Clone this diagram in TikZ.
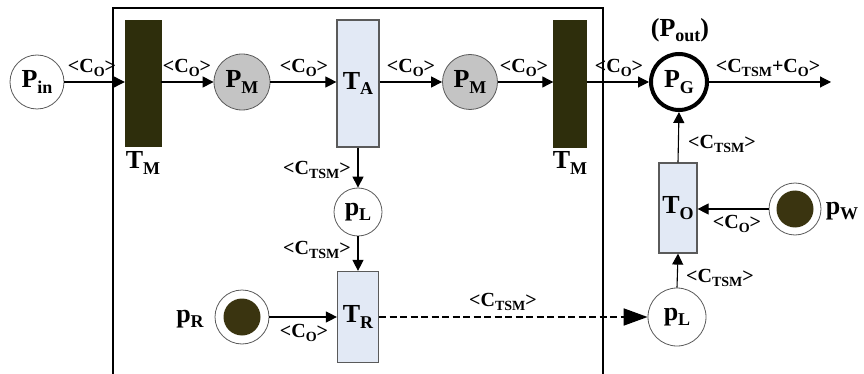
\documentclass[tikz,border=0pt]{standalone}
\usepackage{fontspec}
\setmainfont{Liberation Serif}
\usetikzlibrary{arrows.meta}
\definecolor{barcol}{RGB}{46,46,12}
\definecolor{tokcol}{RGB}{58,52,16}
\definecolor{tblue}{RGB}{226,233,245}
\definecolor{pgray}{RGB}{196,196,196}
\definecolor{edgegray}{RGB}{90,90,90}
\newcommand\nl[2]{{\bfseries\fontsize{26}{26}\selectfont #1\raisebox{-0.22em}{\fontsize{18}{18}\selectfont #2}}}
\newcommand\el[1]{{\bfseries\fontsize{20}{20}\selectfont <C\raisebox{-0.2em}{\fontsize{14}{14}\selectfont #1}>}}
\tikzset{
  place/.style={circle,draw=edgegray,line width=0.8pt,inner sep=0pt,fill=white},
  gplace/.style={place,fill=pgray},
  darkbar/.style={rectangle,draw=barcol,fill=barcol,inner sep=0pt},
  bluetr/.style={rectangle,draw=edgegray,line width=1.2pt,fill=tblue,inner sep=0pt},
  token/.style={circle,fill=tokcol,inner sep=0pt,minimum size=37pt},
  arc/.style={line width=1.1pt,-{Triangle[length=11pt,width=11pt]}},
  lab/.style={inner sep=0pt}
}
\begin{document}
\begin{tikzpicture}[x=1pt,y=-1pt]
\useasboundingbox (0,0) rectangle (864,374);
% frame
\draw[line width=1.8pt] (113,374) -- (113,8) -- (603,8) -- (603,374);
% places and transitions
\node[place,minimum size=54pt] (pin) at (37,82) {\nl{P}{in}};
\node[darkbar,minimum width=36pt,minimum height=126pt] (tm1) at (143,83) {};
\node[gplace,minimum size=56pt] (pm1) at (242,82) {\nl{P}{M}};
\node[bluetr,minimum width=42pt,minimum height=127pt] (ta) at (358,83.5) {\nl{T}{A}};
\node[gplace,minimum size=55pt] (pm2) at (470,82) {\nl{P}{M}};
\node[darkbar,minimum width=33pt,minimum height=127pt] (tm2) at (570,83.5) {};
\node[place,draw=black,line width=4pt,minimum size=56pt] (pg) at (679,82) {\nl{P}{G}};
\node[bluetr,minimum width=38pt,minimum height=90pt] (to) at (678,208) {\nl{T}{O}};
\node[place,minimum size=52pt] (pw) at (795,209) {};
\node[token] (pwt) at (795,209) {};
\node[place,minimum size=58pt] (pl2) at (677,317) {\nl{p}{L}};
\node[place,minimum size=48pt] (pl1) at (358,212) {\nl{p}{L}};
\node[bluetr,minimum width=41pt,minimum height=91pt] (tr) at (358,317) {\nl{T}{R}};
\node[place,minimum size=54pt] (pr) at (242,317) {};
\node[token] (prt) at (242,317) {};
\coordinate (out) at (831,82);
% node names outside
\node[lab] (tm1l) at (143,163) {\nl{T}{M}};
\node[lab] (tm2l) at (570,163) {\nl{T}{M}};
\node[lab] (poutl) at (680,30) {\nl{(P}{out}{\bfseries\fontsize{26}{26}\selectfont )}};
\node[lab] (pwl) at (842,211) {\nl{p}{W}};
\node[lab] (prl) at (190,319) {\nl{p}{R}};
% arcs
\draw[arc] (pin) -- (tm1.west |- pin);
\draw[arc] (tm1.east |- pm1) -- (pm1);
\draw[arc] (pm1) -- (ta.west |- pm1);
\draw[arc] (ta.east |- pm2) -- (pm2);
\draw[arc] (pm2) -- (tm2.west |- pm2);
\draw[arc] (tm2.east |- pg) -- (pg);
\draw[arc] (pg) -- (out);
\draw[arc] (ta.south) -- (pl1.north);
\draw[arc] (pl1.south) -- (tr.north);
\draw[arc] (pr) -- (tr.west |- pr);
\draw[line width=1.8pt,dash pattern=on 7pt off 3.5pt,-{Triangle[length=24pt,width=17pt]}] (tr.east |- pl2) -- (pl2);
\draw[arc] (pl2.north) -- (to.south);
\draw[arc] (pw) -- (to.east |- pw);
\draw[arc] (to.north) -- (pg.south);
% edge labels
\node[lab] at (92,68) {\el{O}};
\node[lab] at (187,68) {\el{O}};
\node[lab] at (304,68) {\el{O}};
\node[lab] at (411,68) {\el{O}};
\node[lab] at (524,68) {\el{O}};
\node[lab] at (619,68) {\el{O}};
\node[lab] at (768,68) {{\bfseries\fontsize{20}{20}\selectfont <C\raisebox{-0.2em}{\fontsize{14}{14}\selectfont TSM}+C\raisebox{-0.2em}{\fontsize{14}{14}\selectfont O}>}};
\node[lab] at (317,170) {\el{TSM}};
\node[lab] at (317,250) {\el{TSM}};
\node[lab] at (304,333) {\el{O}};
\node[lab] at (503,302) {\el{TSM}};
\node[lab] at (722,144) {\el{TSM}};
\node[lab] at (737,224) {\el{O}};
\node[lab] at (720,278) {\el{TSM}};
\end{tikzpicture}
\end{document}
